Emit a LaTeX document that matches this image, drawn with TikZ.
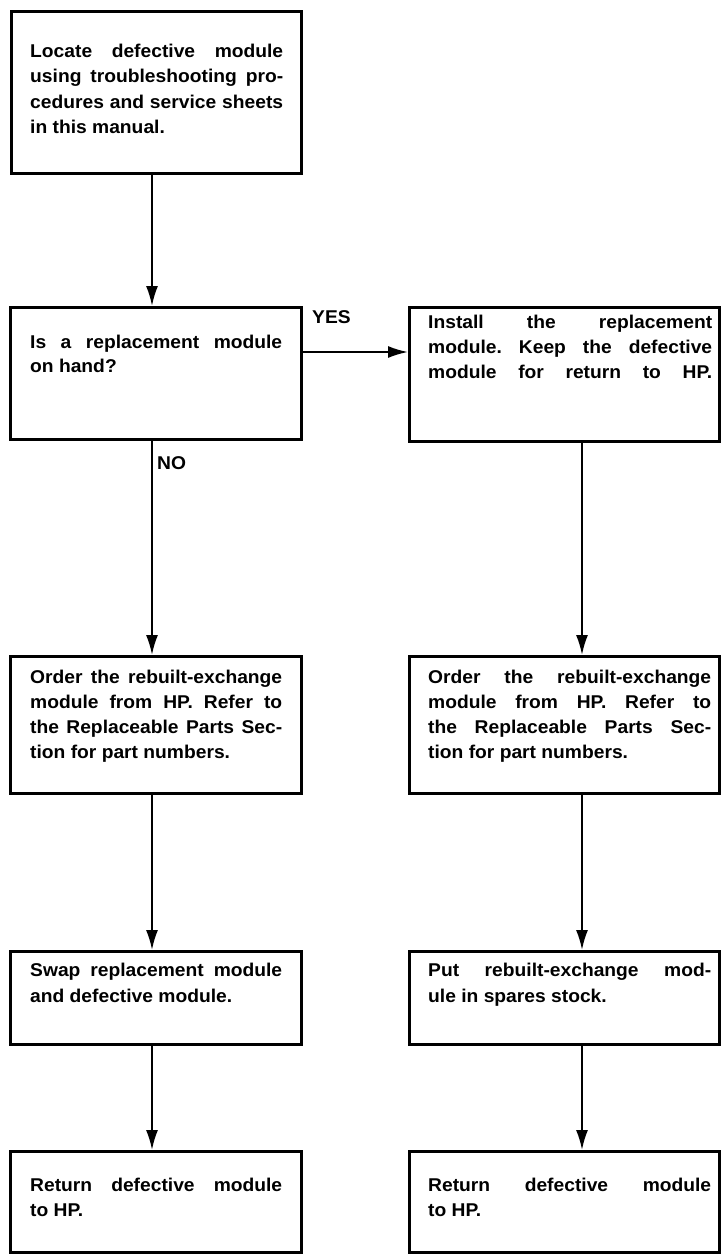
\documentclass[tikz,border=0pt]{standalone}
\usepackage{fontspec}
\setmainfont{Liberation Sans}[FakeStretch=1.04]
\usetikzlibrary{arrows.meta}
\frenchspacing
\newcommand{\fulline}[1]{\hbox to \hsize{#1}}
\newcommand{\shortline}[1]{\hbox{#1}}
\newcommand{\blk}[3]{\parbox[t]{#1pt}{\frenchspacing\baselineskip=#2pt #3}}
\begin{document}
\begin{tikzpicture}[x=1pt,y=-1pt,
  box/.style={draw, line width=2.8pt, inner sep=0pt, anchor=north west},
  txt/.style={anchor=base west, inner sep=0pt, font=\fontsize{18.5}{22}\selectfont\bfseries},
  arr/.style={line width=2pt, -{Latex[length=20pt,width=12pt]}},
  lbl/.style={inner sep=0pt, font=\fontsize{18.5}{22}\selectfont\bfseries}]
\useasboundingbox (0,0) rectangle (721,1256);
% boxes
\node[box, minimum width=290pt, minimum height=162pt] (b1) at (10,10) {};
\node[box, minimum width=291pt, minimum height=132pt] (b2) at (9,306) {};
\node[box, minimum width=310pt, minimum height=134pt] (b3) at (408,306) {};
\node[box, minimum width=291pt, minimum height=137pt] (b4) at (9,655) {};
\node[box, minimum width=310pt, minimum height=137pt] (b5) at (408,655) {};
\node[box, minimum width=291pt, minimum height=93pt] (b6) at (9,950) {};
\node[box, minimum width=310pt, minimum height=93pt] (b7) at (408,950) {};
\node[box, minimum width=291pt, minimum height=101pt] (b8) at (9,1150) {};
\node[box, minimum width=310pt, minimum height=101pt] (b9) at (408,1150) {};
% texts
\node[txt] (t1) at (30,57) {\blk{253}{25.5}{\fulline{Locate defective module}\fulline{using troubleshooting pro-}\fulline{cedures and service sheets}\shortline{in this manual.}}};
\node[txt] (t2) at (30,348) {\blk{252}{24}{\fulline{Is a replacement module}\shortline{on hand?}}};
\node[txt] (t3) at (428,328) {\blk{284}{25}{\fulline{Install the replacement}\fulline{module. Keep the defective}\fulline{module for return to HP.}}};
\node[txt] (t4) at (30,683) {\blk{252}{25}{\fulline{Order the rebuilt-exchange}\fulline{module from HP. Refer to}\fulline{the Replaceable Parts Sec-}\shortline{tion for part numbers.}}};
\node[txt] (t5) at (428,683) {\blk{283}{25}{\fulline{Order the rebuilt-exchange}\fulline{module from HP. Refer to}\fulline{the Replaceable Parts Sec-}\shortline{tion for part numbers.}}};
\node[txt] (t6) at (30,976) {\blk{252}{26}{\fulline{Swap replacement module}\shortline{and defective module.}}};
\node[txt] (t7) at (428,976) {\blk{283}{26}{\fulline{Put rebuilt-exchange mod-}\shortline{ule in spares stock.}}};
\node[txt] (t8) at (30,1191) {\blk{252}{25}{\fulline{Return defective module}\shortline{to HP.}}};
\node[txt] (t9) at (428,1191) {\blk{283}{25}{\fulline{Return defective module}\shortline{to HP.}}};
% connector positions
\coordinate (lc) at (152,0);
\coordinate (rc) at (582,0);
\coordinate (hy) at (0,352);
% connectors
\draw[arr] (b1.south -| lc) -- (b2.north -| lc);
\draw[arr] (b2.east |- hy) -- (b3.west |- hy);
\draw[arr] (b2.south -| lc) -- (b4.north -| lc);
\draw[arr] (b3.south -| rc) -- (b5.north -| rc);
\draw[arr] (b4.south -| lc) -- (b6.north -| lc);
\draw[arr] (b5.south -| rc) -- (b7.north -| rc);
\draw[arr] (b6.south -| lc) -- (b8.north -| lc);
\draw[arr] (b7.south -| rc) -- (b9.north -| rc);
% labels
\node[lbl, anchor=base west] (yes) at (312,323) {YES};
\node[lbl, anchor=base west] (no) at (157,469) {NO};
\end{tikzpicture}
\end{document}
